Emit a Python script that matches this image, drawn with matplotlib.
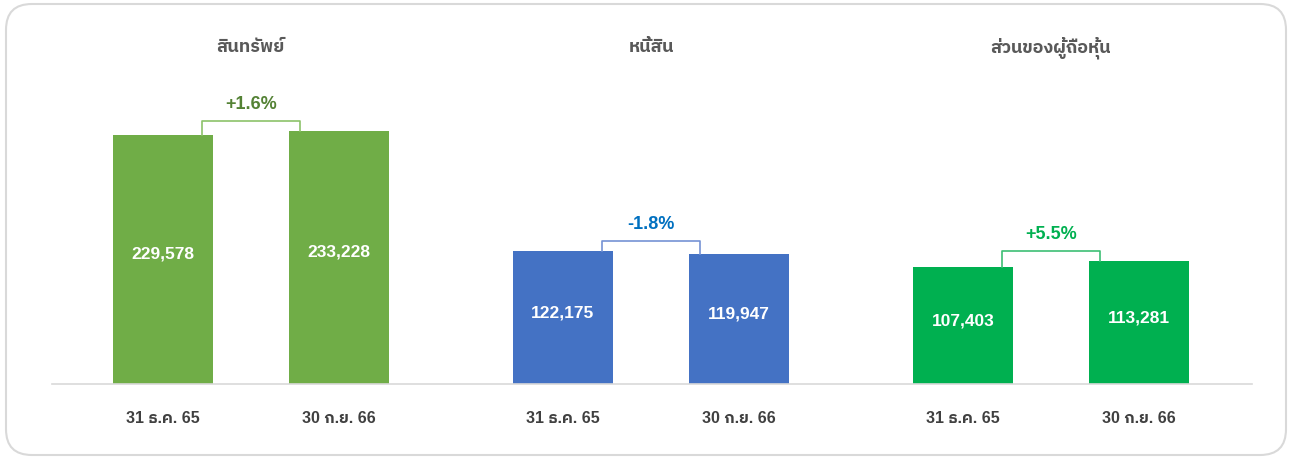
import matplotlib
matplotlib.use('Agg')
import matplotlib.pyplot as plt
import matplotlib.transforms as mtransforms
from matplotlib.patches import FancyBboxPatch

plt.rcParams['font.family'] = ['Liberation Sans', 'IBM Plex Sans Thai', 'DejaVu Sans']

# data
groups = ['สินทรัพย์', 'หนี้สิน', 'ส่วนของผู้ถือหุ้น']
periods = ['31 ธ.ค. 65', '30 ก.ย. 66']
dec65 = [229578, 122175, 107403]
sep66 = [233228, 119947, 113281]
changes = ['+1.6%', '-1.8%', '+5.5%']

bar_colors = ['#70AD47', '#4472C4', '#00B050']
line_colors = ['#8CC26A', '#7592D4', '#3DBF74']
pct_colors = ['#548235', '#0070C0', '#00B050']

W, H = 1290, 461
fig = plt.figure(figsize=(W / 100, H / 100), dpi=100)

# rounded card border
card = FancyBboxPatch((6 / W, 6 / H), (W - 10) / W, (H - 10) / H,
                      boxstyle='round,pad=0,rounding_size=0.02',
                      transform=fig.transFigure, facecolor='none',
                      edgecolor='#D9D9D9', linewidth=1.5,
                      mutation_aspect=W / H, zorder=-1)
fig.patches.append(card)

ax = fig.add_axes([52 / W, 1 - 384 / H, 1200 / W, 364 / H])
ax.patch.set_visible(False)
px = 921.7  # data units per pixel in y
ax.set_ylim(0, 364 * px)
ax.set_xlim(-0.4975, 2.5025)

off, bw = 0.22, 0.25
inset = 11 / 400  # bracket legs sit just inside the inner bar edges
for i in range(len(groups)):
    vals = [dec65[i], sep66[i]]
    xs = [i - off, i + off]
    ax.bar(xs, vals, width=bw, color=bar_colors[i], zorder=2)
    for x, v in zip(xs, vals):
        ax.text(x, v / 2 + 5 * px, f'{v:,}', ha='center', va='center',
                color='white', fontsize=12.5, fontweight='bold')
    top = max(vals) + 10 * px
    lx = xs[0] + bw / 2 - inset
    rx = xs[1] - bw / 2 + inset
    ax.plot([lx, lx, rx, rx], [vals[0], top, top, vals[1]],
            color=line_colors[i], lw=1.2, zorder=3)
    ax.text(i, top + 8 * px, changes[i], ha='center', va='bottom',
            color=pct_colors[i], fontsize=13, fontweight='bold')

blend = mtransforms.blended_transform_factory(ax.transData, fig.transFigure)
for i, g in enumerate(groups):
    ax.text(i, 1 - 48 / H, g, transform=blend, ha='center', va='center',
            color='#595959', fontsize=13, fontweight='bold')
    for j, p in enumerate(periods):
        ax.text(i + (2 * j - 1) * off, 1 - 418 / H, p, transform=blend,
                ha='center', va='center', color='#404040', fontsize=11.5,
                fontweight='bold')

for s in ['top', 'left', 'right']:
    ax.spines[s].set_visible(False)
ax.spines['bottom'].set_color('#D9D9D9')
ax.spines['bottom'].set_linewidth(1.2)
ax.set_xticks([])
ax.set_yticks([])

fig.savefig('out.png', dpi=100)
